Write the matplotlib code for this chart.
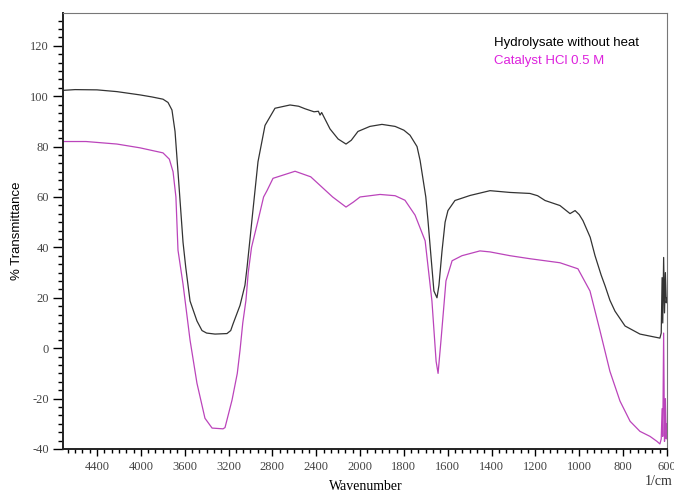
import numpy as np
import matplotlib
matplotlib.use("Agg")
import matplotlib.pyplot as plt
from matplotlib.ticker import FixedLocator, AutoMinorLocator

# wavenumber (1/cm) and % transmittance
wn_black = [4710, 4600, 4400, 4218, 4008, 3900, 3798, 3752, 3716, 3688, 3661, 3615, 3590,
            3551, 3488, 3442, 3400, 3323, 3214, 3180, 3159, 3095, 3050, 3031, 3000, 2986,
            2931, 2867, 2776, 2639, 2560, 2502, 2420, 2380, 2365, 2350, 2274, 2200, 2128,
            2080, 2019, 1955, 1900, 1840, 1800, 1772, 1740, 1726, 1700, 1690, 1675, 1663,
            1649, 1640, 1626, 1612, 1599, 1567, 1498, 1407, 1316, 1225, 1190, 1156, 1088,
            1042, 1019, 1000, 983, 950, 928, 900, 882, 860, 837, 791, 723, 655, 632, 626,
            622, 619, 615, 611, 607, 603, 600]
t_black = [102.3, 102.6, 102.5, 101.8, 100.5, 99.7, 98.8, 97.5, 94.5, 86, 70, 42, 32,
           18.7, 10.8, 7, 6, 5.6, 5.8, 7, 9.6, 17, 25, 32, 45, 51,
           74, 88.4, 95.2, 96.5, 96, 95, 93.8, 94, 92.5, 93.5, 87, 83, 81,
           82.5, 86, 88, 88.8, 88, 86.5, 84.5, 80, 74.5, 60, 50.6, 35, 22.7,
           20, 25, 38.6, 50, 54.6, 58.6, 60.6, 62.5, 61.8, 61.4, 60.5, 58.6, 56.6,
           53.4, 54.6, 53, 50.6, 44, 36.7, 29, 24.7, 19, 14.7, 8.8, 5.6, 4.4, 4, 6,
           28, 10, 36, 14, 30, 18, 20]

wn_mag = [4710, 4500, 4218, 4008, 3798, 3740, 3706, 3680, 3661, 3615, 3551, 3488, 3415,
          3350, 3250, 3232, 3168, 3120, 3095, 3070, 3041, 3020, 2990, 2931, 2880, 2849,
          2794, 2593, 2450, 2350, 2250, 2128, 2060, 2000, 1909, 1840, 1795, 1749, 1703,
          1672, 1653, 1644, 1631, 1608, 1580, 1535, 1453, 1407, 1316, 1225, 1088, 1006,
          951, 905, 860, 814, 768, 723, 677, 645, 632, 626, 622, 619, 615, 611, 607,
          603, 600]
t_mag = [82, 82, 81, 79.5, 77.5, 75, 70, 60, 38.9, 25.4, 3.2, -13.9, -27.8,
         -31.7, -32, -31.5, -20.6, -10, -0.8, 10, 19, 30, 40, 50.6, 60, 62.5,
         67.4, 70.2, 68, 64, 60, 56, 58, 60, 61, 60.5, 58.7, 52.8, 42.6,
         18.7, -5.2, -10, 2.8, 26.7, 34.7, 36.7, 38.6, 38.2, 36.7, 35.5, 33.9, 31.5,
         22.7, 6.8, -9.2, -21, -29, -33, -35, -37, -38, -36, -24, -35, 6, -37, -20,
         -36, -30]

x_major = [4400, 4000, 3600, 3200, 2800, 2400, 2000, 1800, 1600, 1400, 1200, 1000, 800, 600]
y_major = [-40, -20, 0, 20, 40, 60, 80, 100, 120]


# the instrument halves the scale above 2000 1/cm
def fwd(w):
    w = np.asarray(w, dtype=float)
    return np.where(w > 2000, 2000 + (w - 2000) / 2, w)


def inv(u):
    u = np.asarray(u, dtype=float)
    return np.where(u > 2000, 2000 + 2 * (u - 2000), u)


serif = ["Liberation Serif", "DejaVu Serif"]
sans = ["Liberation Sans", "DejaVu Sans"]

fig = plt.figure(figsize=(6.74, 4.94), dpi=100)
ax = fig.add_axes([0.0935, 0.0911, 0.896, 0.8826])
ax.set_xscale("function", functions=(fwd, inv))

ax.plot(wn_black, t_black, color="#333333", lw=0.9)
ax.plot(wn_mag, t_mag, color="#bb44bb", lw=0.9)

ax.set_xlim(4710, 600)
ax.set_ylim(-40, 133)

ax.xaxis.set_major_locator(FixedLocator(x_major))
minors = []
for a, b in zip(x_major[:-1], x_major[1:]):
    minors += list(np.linspace(a, b, 7)[1:-1])
step = (x_major[0] - x_major[1]) / 6
minors += [x_major[0] + step * k for k in range(1, 5)]
ax.xaxis.set_minor_locator(FixedLocator(minors))
ax.set_xticklabels([str(v) for v in x_major])

ax.yaxis.set_major_locator(FixedLocator(y_major))
ax.yaxis.set_minor_locator(AutoMinorLocator(6))
ax.set_yticklabels([str(v) for v in y_major])

for lbl in ax.get_xticklabels() + ax.get_yticklabels():
    lbl.set_family(serif)
    lbl.set_fontsize(9)
    lbl.set_color("#444444")

ax.tick_params(axis="y", which="major", length=7, width=1, pad=3, direction="out")
ax.tick_params(axis="y", which="minor", length=3.5, width=1, direction="out")
ax.tick_params(axis="x", which="major", length=5, width=1, pad=4, direction="out")
ax.tick_params(axis="x", which="minor", length=3, width=1, direction="out")

for s in ("left", "bottom"):
    ax.spines[s].set_linewidth(1.4)
    ax.spines[s].set_color("#222222")
for s in ("top", "right"):
    ax.spines[s].set_linewidth(0.8)
    ax.spines[s].set_color("#777777")

ax.set_ylabel("% Transmittance", family=sans, fontsize=9.5, labelpad=5)
fig.text(0.543, 0.002, "Wavenumber", family=serif, fontsize=10, ha="center", va="bottom")
fig.text(0.998, 0.012, "1/cm", family=serif, fontsize=10, ha="right", va="bottom", color="#333333")

ax.text(0.713, 0.925, "Hydrolysate without heat", transform=ax.transAxes,
        family=sans, fontsize=9.5, color="black")
ax.text(0.713, 0.882, "Catalyst HCl 0.5 M", transform=ax.transAxes,
        family=sans, fontsize=9.5, color="#dd22dd")

fig.savefig("out.png", dpi=100)
